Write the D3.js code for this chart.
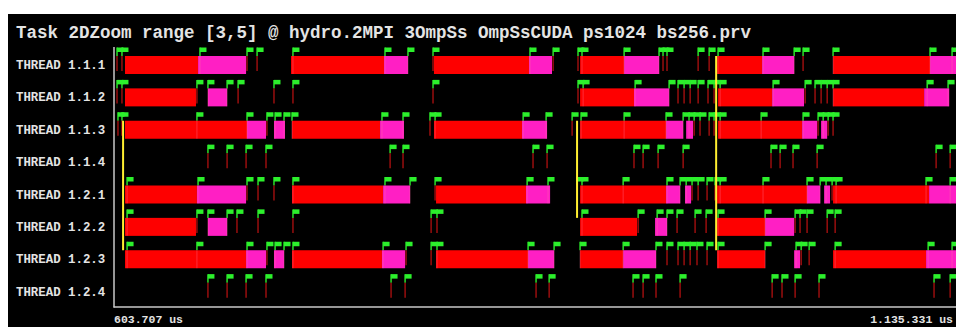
<!DOCTYPE html>
<html><head><meta charset="utf-8">
<script src="https://cdn.jsdelivr.net/npm/d3@7"></script>
<style>html,body{margin:0;padding:0;background:#fff;overflow:hidden}</style>
</head><body><svg id="c" width="956" height="327"></svg>
<script>
// Window title and time range (microseconds)
const TITLE = "Task 2DZoom range [3,5] @ hydro.2MPI 3OmpSs OmpSsCUDA ps1024 bs256.prv";
const TIME_RANGE = [603707, 1135331];
const TIME_LABELS = ["603.707 us", "1.135.331 us"];

const THREADS = ["THREAD 1.1.1", "THREAD 1.1.2", "THREAD 1.1.3", "THREAD 1.1.4",
                 "THREAD 1.2.1", "THREAD 1.2.2", "THREAD 1.2.3", "THREAD 1.2.4"];

// state codes: 0 = Running, 1 = Synchronization
const STATE_NAMES = ["Running", "Synchronization"];

// [begin, end, state] per thread
const states111 = [[610600,656400,0],[656400,686500,1],[714700,773000,0],[773000,788000,1],[804300,863900,0],[863900,878300,1],
  [895900,923500,0],[923500,945400,1],[981800,1010000,0],[1010000,1030100,1],[1054500,1115300,0],[1115300,1135331,1]];
const states112 = [[610600,655100,0],[662600,674600,1],[895900,929700,0],[929700,951700,1],[982400,1016300,0],[1016300,1036300,1],
  [1054500,1111600,0],[1111600,1127300,1]];
const states113 = [[610600,687100,0],[687100,699000,1],[704000,710900,1],[715300,770500,0],[770500,785500,1],[804300,859500,0],[859500,875200,1],
  [895900,949800,0],[949800,960500,1],[962400,966700,1],[982400,1035100,0],[1035100,1044500,1],[1047000,1050800,1]];
const states114 = [];
const states121 = [[610600,655700,0],[655700,686500,1],[715300,772400,0],[772400,789300,1],[805600,862000,0],[862000,877100,1],
  [895900,949800,0],[949800,958600,1],[961700,965500,1],[981800,1038200,0],[1038200,1046400,1],[1048900,1052600,1],
  [1054500,1114700,0],[1114700,1135331,1]];
const states122 = [[610600,655100,0],[662600,674600,1],[895900,931600,0],[942900,950400,1],[981800,1011900,0],[1011900,1030100,1]];
const states123 = [[610600,686500,0],[686500,699000,1],[704000,710300,1],[715300,771700,0],[771700,786200,1],[805600,863300,0],[863300,879600,1],
  [895900,922900,0],[922900,943500,1],[981800,1011900,0],[1030100,1033800,1],[1054500,1112800,0],[1112800,1135331,1]];
const states124 = [];

// event times per thread
const events111 = [605600,608700,657600,687100,693400,715900,773600,788000,803700,864500,879000,894600,897100,923500,945400,947900,950400,
  969900,976800,982400,1010600,1030100,1035700,1054500,1115300,1129100];
const events112 = [605600,608700,655700,662600,674600,681500,704000,715900,803700,894600,897800,930400,951700,957300,961100,964900,969900,
  976100,979900,983700,1016900,1037000,1043200,1047000,1050800,1054500,1113500,1126600];
const events113 = [606200,608700,655700,687100,699600,704700,710300,715300,771700,784900,801800,805000,860200,874600,890900,896500,923500,
  949800,960500,964200,967400,971100,976800,979900,983700,1009400,1035700,1045100,1048300,1051400,1054500];
const events114 = [662600,674600,686500,699000,776800,784900,866400,875200,929700,935400,944800,960500,1015600,1021300,1029400,1044500,
  1119100,1127900];
const events121 = [611900,656400,687100,694000,704000,715900,773600,789300,805000,862700,875800,894000,897100,922900,950400,958600,962400,
  966100,969900,975500,980500,983700,1010600,1038200,1046400,1050100,1053900,1056400,1112800,1127900];
const events122 = [611900,655700,662600,674600,680800,694000,715900,802500,806200,897100,932300,944200,950400,956700,968000,974900,982400,
  1011900,1030700,1033800,1038200,1050800,1055800];
const events123 = [611900,655700,687100,699600,704700,710300,715900,772400,786800,802500,806200,863300,879600,895900,922900,943500,950400,
  957300,961100,964900,969200,975500,982400,1011900,1031300,1034500,1039500,1055800,1114100,1129100];
const events124 = [662600,674600,686500,699000,777400,786200,868300,876500,929100,935400,943500,958600,1016300,1022500,1030700,1045700,
  1117800,1127900];

// communications: [time, from thread index, to thread index]
const comms = [[609400, 2, 6], [894000, 2, 5], [981200, 0, 6]];

const STATES = [states111, states112, states113, states114, states121, states122, states123, states124];
const EVENTS = [events111, events112, events113, events114, events121, events122, events123, events124];

const COLORS = { state: ["#fe0000", "#ff1fc4"], flag: "#2cf02c", comm: "#ffee30", axis: "#c8c8c8", text: "#e4e4e4" };
const FONT = "'Liberation Mono', 'DejaVu Sans Mono', monospace";

const svg = d3.select("#c");
svg.append("rect").attr("x", 8).attr("y", 14).attr("width", 948).attr("height", 313).attr("fill", "#000");

svg.append("text").attr("x", 16).attr("y", 38).text(TITLE)
  .attr("font-family", FONT).attr("font-size", 17.5).attr("font-weight", "bold").attr("fill", COLORS.text);

const x = d3.scaleLinear().domain(TIME_RANGE).range([114, 962]);
const y = d3.scaleBand().domain(THREADS).range([48, 307]);
const BAR_OFF = 8, BAR_H = 18;

// thread labels
svg.append("g").selectAll("text").data(THREADS).join("text")
  .attr("x", 16).attr("y", d => y(d) + 21)
  .text(d => d)
  .attr("font-family", FONT).attr("font-size", 12.4).attr("font-weight", "bold").attr("fill", COLORS.text);

svg.append("clipPath").attr("id", "plot").append("rect").attr("x", 115).attr("y", 40).attr("width", 850).attr("height", 266);
const g = svg.append("g").attr("clip-path", "url(#plot)");

const inState = (row, t) => STATES[row].some(s => t >= s[0] && t <= s[1]);

const evRows = EVENTS.flatMap((list, row) => list.map(t => ({ t, row, inside: inState(row, t) })));

// flag poles down to the state bar
g.append("g").selectAll("line").data(evRows).join("line")
  .attr("x1", d => x(d.t)).attr("x2", d => x(d.t))
  .attr("y1", d => y(THREADS[d.row]) - 0.5).attr("y2", d => y(THREADS[d.row]) + BAR_OFF)
  .attr("stroke", COLORS.flag).attr("stroke-width", 1.4);

// short bursts on threads that are otherwise idle
g.append("g").selectAll("line").data(evRows.filter(d => !d.inside)).join("line")
  .attr("x1", d => x(d.t)).attr("x2", d => x(d.t))
  .attr("y1", d => y(THREADS[d.row]) + BAR_OFF).attr("y2", d => y(THREADS[d.row]) + BAR_OFF + 15)
  .attr("stroke", "#b01010").attr("stroke-width", 1.3);

// state bars
const bars = STATES.flatMap((list, row) => list.map(s => ({ b: s[0], e: s[1], st: s[2], row })));
g.append("g").selectAll("rect").data(bars).join("rect")
  .attr("x", d => x(d.b)).attr("width", d => x(d.e) - x(d.b))
  .attr("y", d => y(THREADS[d.row]) + BAR_OFF).attr("height", BAR_H)
  .attr("fill", d => COLORS.state[d.st]);

// event marks across the bars
g.append("g").selectAll("line").data(evRows.filter(d => d.inside)).join("line")
  .attr("x1", d => x(d.t)).attr("x2", d => x(d.t))
  .attr("y1", d => y(THREADS[d.row]) + BAR_OFF).attr("y2", d => y(THREADS[d.row]) + BAR_OFF + BAR_H)
  .attr("stroke", "#ff7aa0").attr("stroke-opacity", 0.35).attr("stroke-width", 1);

// flags
g.append("g").selectAll("rect").data(evRows).join("rect")
  .attr("x", d => x(d.t)).attr("y", d => y(THREADS[d.row]) - 0.5)
  .attr("width", 6.5).attr("height", 4.5).attr("fill", COLORS.flag);

// communication lines
g.append("g").selectAll("line").data(comms).join("line")
  .attr("x1", d => x(d[0])).attr("x2", d => x(d[0]))
  .attr("y1", d => y(THREADS[d[1]]) + BAR_OFF).attr("y2", d => y(THREADS[d[2]]) + BAR_OFF)
  .attr("stroke", COLORS.comm).attr("stroke-width", 2);

// axes
svg.append("line").attr("x1", 114).attr("x2", 114).attr("y1", 47).attr("y2", 307.5)
  .attr("stroke", COLORS.axis).attr("stroke-width", 1.5);
svg.append("line").attr("x1", 113.5).attr("x2", 956).attr("y1", 307).attr("y2", 307)
  .attr("stroke", COLORS.axis).attr("stroke-width", 1.5);

svg.append("text").attr("x", x(TIME_RANGE[0])).attr("y", 323).text(TIME_LABELS[0])
  .attr("font-family", FONT).attr("font-size", 11.5).attr("font-weight", "bold").attr("fill", COLORS.text);
// end label kept inside the visible window
svg.append("text").attr("x", 953).attr("y", 323).attr("text-anchor", "end").text(TIME_LABELS[1])
  .attr("font-family", FONT).attr("font-size", 11.5).attr("font-weight", "bold").attr("fill", COLORS.text);
</script></body></html>
